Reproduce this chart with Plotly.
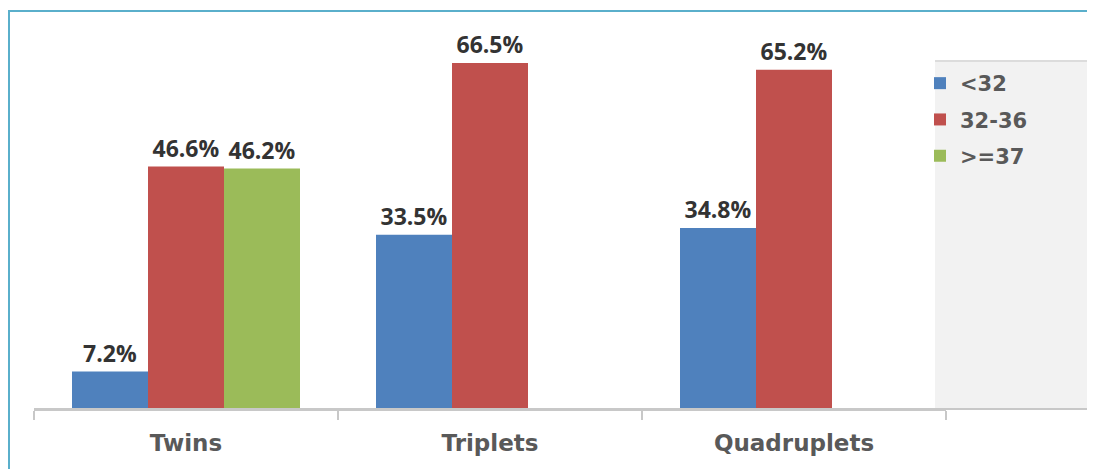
import plotly.graph_objects as go

categories = ["Twins", "Triplets", "Quadruplets"]
series_names = ["<32", "32-36", ">=37"]
vals_lt32 = [7.2, 33.5, 34.8]
vals_32_36 = [46.6, 66.5, 65.2]
vals_ge37 = [46.2, None, None]
colors = ["#4F81BD", "#C0504D", "#9BBB59"]

OFF = 8  # page body margin offset
W, H = 1095 + OFF, 469 + OFF
# reference pixel positions of plot area
ref_left, ref_right, ref_top, ref_bottom = 34, 946, 20, 409
L = ref_left - OFF
R = W - (ref_right - OFF)
T = ref_top - OFF
B = H - (ref_bottom - OFF)
pw = W - L - R
ph = H - T - B
ymax = (ref_bottom - ref_top) / ((409 - 63) / 66.5)

def px_x(px):
    return (px - ref_left) / pw

def px_y(py):
    return (ref_bottom - py) / ph

fig = go.Figure()
for name, vals, col in zip(series_names, [vals_lt32, vals_32_36, vals_ge37], colors):
    fig.add_trace(go.Bar(
        x=categories, y=vals, name=name, marker=dict(color=col, line=dict(width=0)),
        texttemplate="%{y:.1f}%", textposition="outside", cliponaxis=False,
        textfont=dict(family="Open Sans", size=23, color="#333333", weight="bold"),
        legendgroup=name,
    ))

shapes = [
    dict(type="rect", xref="paper", yref="paper", x0=px_x(935), x1=px_x(1110),
         y0=px_y(408), y1=px_y(61), fillcolor="#F2F2F2", line=dict(width=0), layer="below"),
    dict(type="line", xref="paper", yref="paper", x0=px_x(935), x1=px_x(1110),
         y0=px_y(61), y1=px_y(61), line=dict(color="#DCDCDC", width=2)),
    dict(type="line", xref="paper", yref="paper", x0=px_x(34), x1=px_x(1110),
         y0=px_y(409), y1=px_y(409), line=dict(color="#C8C8C8", width=2)),
    dict(type="line", xref="paper", yref="paper", x0=px_x(8), x1=px_x(1110),
         y0=px_y(11), y1=px_y(11), line=dict(color="#5AAFCB", width=2)),
    dict(type="line", xref="paper", yref="paper", x0=px_x(9), x1=px_x(9),
         y0=px_y(480), y1=px_y(10), line=dict(color="#5AAFCB", width=2)),
]

fig.update_layout(
    width=W, height=H,
    margin=dict(l=L, r=R, t=T, b=B),
    paper_bgcolor="white", plot_bgcolor="rgba(0,0,0,0)",
    barmode="group", bargap=0.25, bargroupgap=0,
    showlegend=True,
    legend=dict(x=px_x(920), y=px_y(63), xanchor="left", yanchor="top",
                bgcolor="rgba(0,0,0,0)", tracegroupgap=6,
                font=dict(family="DejaVu Sans", size=21, color="#595959", weight="bold")),
    shapes=shapes,
    xaxis=dict(showline=True, linecolor="#C8C8C8", linewidth=2,
               ticks="outside", tickson="boundaries", ticklen=9, tickwidth=2, tickcolor="#C8C8C8",
               ticklabelstandoff=12,
               tickfont=dict(family="DejaVu Sans", size=23, color="#595959", weight="bold"),
               showgrid=False),
    yaxis=dict(range=[0, ymax], visible=False, showgrid=False),
)

fig.write_html("out.html", config={"displayModeBar": False})
